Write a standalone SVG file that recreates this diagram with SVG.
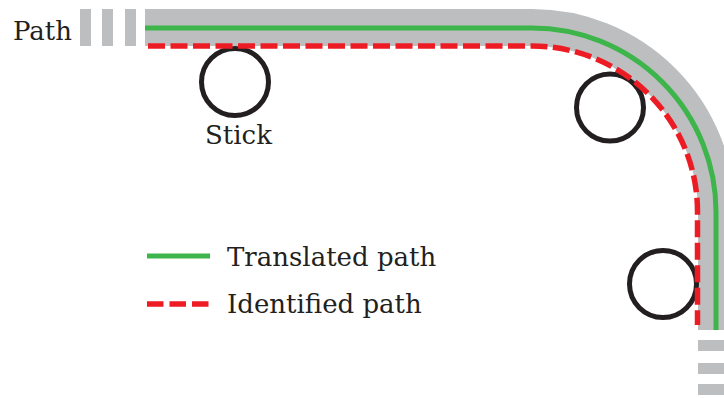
<svg xmlns="http://www.w3.org/2000/svg" width="724" height="398" viewBox="0 0 724 398">
<style>
.lbl{font-family:"DejaVu Serif","Liberation Serif",serif;font-size:26px;fill:#231F20}
.band{fill:none;stroke:#BCBEC0;stroke-width:37}
.seg{fill:#BCBEC0}
.green{fill:none;stroke:#3DB54A;stroke-width:5}
.red{fill:none;stroke:#ED1C24;stroke-width:5.5;stroke-dasharray:17 5.5}
.stick{fill:none;stroke:#231F20;stroke-width:5}
</style>
<rect width="724" height="398" fill="#FFFFFF"/>
<g id="track">
<rect class="seg" x="80" y="9" width="11" height="37"/>
<rect class="seg" x="102" y="9" width="11" height="37"/>
<rect class="seg" x="125" y="9" width="11" height="37"/>
<path class="band" d="M145 27.5 H532 A184.5 184.5 0 0 1 716.5 212 V330"/>
<rect class="seg" x="698" y="340" width="26" height="11"/>
<rect class="seg" x="698" y="363" width="26" height="11"/>
<rect class="seg" x="698" y="384" width="26" height="11"/>
<text class="lbl" x="13" y="40">Path</text>
</g>
<g id="sticks">
<circle id="stick1" class="stick" cx="235" cy="82" r="33.5"/>
<circle id="stick2" class="stick" cx="610" cy="107.5" r="33.5"/>
<circle id="stick3" class="stick" cx="663" cy="284" r="33.5"/>
<text class="lbl" x="205" y="144">Stick</text>
</g>
<g id="connectors">
<path id="translated" class="green" d="M145 28 H532 A184 184 0 0 1 716 212 V330"/>
<path id="identified" class="red" d="M148 46 H532 A165.5 165.5 0 0 1 697.5 212 V325"/>
</g>
<g id="legend">
<line class="green" x1="147" y1="256" x2="210" y2="256"/>
<line class="red" x1="147" y1="304" x2="210" y2="304" style="stroke-dasharray:16.5 6"/>
<text class="lbl" x="227" y="266">Translated path</text>
<text class="lbl" x="227" y="313">Identified path</text>
</g>
</svg>
